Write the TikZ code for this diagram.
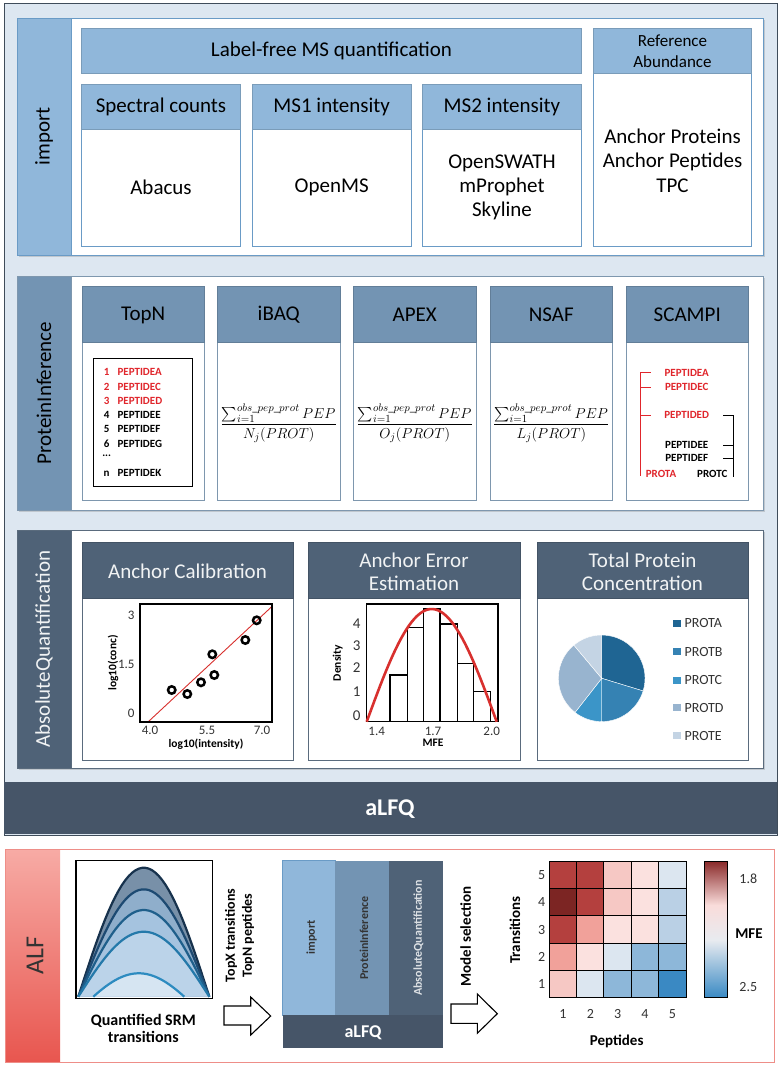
\documentclass[tikz,border=0pt]{standalone}
\usepackage{fontspec}
\setmainfont{Carlito}
\usepackage{amsmath}
\usetikzlibrary{calc,shadows}
\definecolor{bgpanel}{HTML}{DDE7F1}
\definecolor{rimgray}{HTML}{3F4C5A}
\definecolor{impfill}{HTML}{90B7DA}
\definecolor{impedge}{HTML}{6A9BC6}
\definecolor{pifill}{HTML}{7394B3}
\definecolor{piedge}{HTML}{7E97AE}
\definecolor{aqfill}{HTML}{4F6277}
\definecolor{aqedge}{HTML}{5A6B7D}
\definecolor{bandfill}{HTML}{465568}
\definecolor{pepred}{HTML}{E0262C}
\definecolor{fitred}{HTML}{D8302E}
\definecolor{alfred}{HTML}{E8564F}
\definecolor{alfpink}{HTML}{F7ABA5}
\definecolor{alfedge}{HTML}{EE8E88}
\definecolor{ticktxt}{HTML}{333333}
\definecolor{protA}{HTML}{1F6593}
\definecolor{protB}{HTML}{3582B3}
\definecolor{protC}{HTML}{3B95C8}
\definecolor{protD}{HTML}{98B4CF}
\definecolor{protE}{HTML}{C4D4E4}
\definecolor{srmfA}{HTML}{7890A8}
\definecolor{srmfB}{HTML}{8FAECB}
\definecolor{srmfC}{HTML}{A5C3DF}
\definecolor{srmfD}{HTML}{BBD3E9}
\definecolor{srmfE}{HTML}{D6E5F2}
\definecolor{srmeA}{HTML}{17324D}
\definecolor{srmeB}{HTML}{1D4A72}
\definecolor{srmeC}{HTML}{1F5F8B}
\definecolor{srmeD}{HTML}{2479AA}
\definecolor{srmeE}{HTML}{2D8BC0}
\definecolor{hmdark}{HTML}{7C2523}
\definecolor{hmred}{HTML}{B4403E}
\definecolor{hmsalmon}{HTML}{F1A19A}
\definecolor{hmpink}{HTML}{F6C8C4}
\definecolor{hmblush}{HTML}{FBE1DF}
\definecolor{hmpale}{HTML}{DCE6F0}
\definecolor{hmblue}{HTML}{8DB7D9}
\definecolor{hmlight}{HTML}{BAD0E5}
\definecolor{hmdeep}{HTML}{3A89C3}
\definecolor{cbtop}{HTML}{8B2C2C}
\definecolor{cbpink}{HTML}{F9DCDA}
\definecolor{cbwhite}{HTML}{E8EBF0}
\definecolor{cbblue}{HTML}{3A8AC4}
\newcommand{\fsz}[2]{\fontsize{#1}{#2}\selectfont}

\begin{document}
\begin{tikzpicture}[x=1pt,y=-1pt,
  panel/.style={draw=#1,line width=0.8pt,fill=white,drop shadow={shadow xshift=1.5pt,shadow yshift=-2pt,opacity=0.3}},
  hdr/.style={draw=#1!85!black,line width=0.6pt,fill=#1},
  body/.style={draw=#1,line width=0.7pt,fill=white},
  tick/.style={font=\fsz{13}{15},text=ticktxt},
  axlab/.style={font=\bfseries\fsz{11.5}{13}},
  peplab/.style={font=\bfseries\fsz{11}{13}},
  boldlab/.style={font=\bfseries\fsz{15}{17}}]
  \useasboundingbox (0,0) rectangle (780,1067);
  % aLFQ frame
  \draw[rimgray,fill=bgpanel] (4,3) rectangle (777,835);
  \fill[bandfill] (4,782) rectangle (777,834);
  \node[font=\bfseries\fsz{24}{28},text=white] (alfq) at (390,809) {aLFQ};
  % import
  \draw[panel=impedge] (17,18) rectangle (763,255);
  \draw[impedge,fill=impfill] (17,18) rectangle (71,255);
  \node[rotate=90,font=\fsz{21}{24}] (impT) at (44,136.5) {import};
  \draw[hdr=impfill] (81.5,28) rectangle (581.5,73);
  \node[font=\fsz{21}{24}] (lfq) at (331.5,51) {Label-free MS quantification};
  \foreach \xa/\xb/\nm/\hd/\bd in {81.5/240.5/sc/Spectral counts/Abacus,252.5/411/msa/MS1 intensity/OpenMS,422.5/581.5/msb/MS2 intensity/{OpenSWATH\\mProphet\\Skyline}}{
    \draw[body=impedge] (\xa,84) rectangle (\xb,246);
    \draw[hdr=impfill] (\xa,84) rectangle (\xb,129);
    \node[font=\fsz{21}{24}] (\nm-h) at ({(\xa+\xb)/2},107) {\hd};
    \node[font=\fsz{21}{24},align=center] (\nm-b) at ({(\xa+\xb)/2},187) {\bd};
  }
  \draw[body=impedge] (593.5,28) rectangle (751.5,246);
  \draw[hdr=impfill] (593.5,28) rectangle (751.5,73);
  \node[font=\fsz{17}{20.5},align=center] (ref-h) at (672.5,51) {Reference\\Abundance};
  \node[font=\fsz{21}{24.5},align=center] (ref-b) at (672.5,160.5) {Anchor Proteins\\Anchor Peptides\\TPC};
  % ProteinInference
  \draw[panel=piedge] (17,276) rectangle (763,510);
  \draw[piedge,fill=pifill] (17,276) rectangle (71,510);
  \node[rotate=90,font=\fsz{21}{24}] (piT) at (44,393) {ProteinInference};
  \foreach \xa/\nm in {82/TopN,217.5/iBAQ,353.5/APEX,490/NSAF,626/SCAMPI}{
    \draw[body=piedge] (\xa,286) rectangle ++(122.5,214);
    \draw[hdr=pifill] (\xa,286) rectangle ++(122.5,56.5);
    \node[font=\fsz{21}{24}] (\nm) at (\xa+61.25,315) {\nm};
  }
  \draw[line width=0.9] (93.3,358.7) rectangle (192.3,486);
  \foreach \y/\n/\p/\c in {372.3/1/PEPTIDEA/pepred,386.7/2/PEPTIDEC/pepred,400.7/3/PEPTIDED/pepred,415/4/PEPTIDEE/black,429.3/5/PEPTIDEF/black,444/6/PEPTIDEG/black,473.3/n/PEPTIDEK/black}{
    \node[peplab,text=\c] (num\n) at (106.7,\y) {\n};
    \node[peplab,text=\c,anchor=west] (top\n) at (114,\y) {\p};
  }
  \node[peplab] (dots) at (106.7,456) {...};
  \foreach \xc/\dn in {278.75/N,414.75/O,551.25/L}
    \node[font=\fsz{15.5}{18}] (f\dn) at (\xc,423) {$\dfrac{\textstyle\sum_{i=1}^{obs\_pep\_prot}PEP}{\dn_j(PROT)}$};
  \draw[pepred,line width=1] (650.7,372.7) -- (640.7,372.7) -- (640.7,476) (640.7,387.3) -- (650.7,387.3) (640.7,415) -- (650.7,415);
  \draw[line width=1] (723.3,415) -- (733.3,415) -- (733.3,476.7) (723.3,445) -- (733.3,445) (723.3,458.3) -- (733.3,458.3);
  \foreach \y/\p/\c in {372.7/PEPTIDEA/pepred,387.3/PEPTIDEC/pepred,415/PEPTIDED/pepred,445/PEPTIDEE/black,458.3/PEPTIDEF/black}
    \node[peplab,text=\c] (sc\p) at (686.7,\y) {\p};
  \node[peplab,text=pepred] (protA) at (661,474.3) {PROTA};
  \node[peplab] (protC) at (712.3,474.3) {PROTC};
  % AbsoluteQuantification
  \draw[panel=aqedge] (17,530) rectangle (763,768);
  \draw[aqedge,fill=aqfill] (17,530) rectangle (71,768);
  \node[rotate=90,font=\fsz{21}{24},text=white!92!aqfill] (aqT) at (44,649) {AbsoluteQuantification};
  \foreach \xa/\xb/\nm/\hd in {82/293/cal/Anchor Calibration,308/520/err/{Anchor Error\\Estimation},537/748/tpc/{Total Protein\\Concentration}}{
    \draw[body=aqedge] (\xa,542) rectangle (\xb,760);
    \draw[hdr=aqfill] (\xa,542) rectangle (\xb,598);
    \node[font=\fsz{21}{23},align=center,text=white!92!aqfill] (\nm) at ({(\xa+\xb)/2},571.5) {\hd};
  }
  % calibration plot
  \draw[fitred,line width=0.9] (148.3,721.7) -- (271.7,606.7);
  \foreach \px/\py in {171.7/690,187.3/694,201/682.3,212.3/654.3,214.3/675,245.3/640,256.7/620.3}
    \draw[line width=2.5] (\px,\py) circle[radius=3.7];
  \draw[line width=1.4] (140,604) rectangle (272,722);
  \foreach \ty/\tl [count=\k] in {615/3,664/1.5,713/0}
    \node[tick,anchor=east] (cy\k) at (138,\ty) {\tl};
  \foreach \tx/\tl [count=\k] in {150/4.0,207/5.5,262/7.0}
    \node[tick] (cx\k) at (\tx,730) {\tl};
  \node[axlab] (calx) at (206,744) {log10(intensity)};
  \node[axlab,rotate=90] (caly) at (113,663) {log10(conc)};
  % error histogram
  \foreach \xa/\xb/\tp in {390/407.3/675,407.3/423.3/627.7,423.3/440/609,440/457.3/624,457.3/473.3/663.3,473.3/490.7/691.7}
    \draw[line width=1.1] (\xa,721.7) rectangle (\xb,\tp);
  \draw[line width=1.4] (366.7,604) rectangle (498,721.7);
  \draw[fitred,line width=2.6] plot[domain=0:180,samples=50] ({366.7+0.7222*\x},{721.7-112.7*sin(\x)});
  \foreach \ty/\tl in {624/4,645.7/3,668/2,692/1,715.7/0}
    \node[font=\fsz{15}{17},text=ticktxt,anchor=east] (ey\tl) at (364,\ty) {\tl};
  \foreach \tx/\tl [count=\k] in {376.7/1.4,433/1.7,491.7/2.0}
    \node[tick] (ex\k) at (\tx,731.7) {\tl};
  \node[axlab] (errx) at (433,743) {MFE};
  \node[axlab,rotate=90] (erry) at (337.7,663) {Density};
  % pie
  \begin{scope}[shift={(601.7,678.3)},y=1pt]
    \foreach \sa/\ea/\pc in {90/-17/protA,-17/-90/protB,-90/-128/protC,-128/-230/protD,-230/-270/protE}
      \fill[\pc,draw=white,line width=0.4] (0,0) -- (\sa:43.3) arc[start angle=\sa,end angle=\ea,radius=43.3] -- cycle;
  \end{scope}
  \foreach \ly/\pc/\pn in {623.3/protA/PROTA,651.7/protB/PROTB,680/protC/PROTC,707.7/protD/PROTD,735.7/protE/PROTE}{
    \fill[\pc] (673.3,\ly-3.5) rectangle ++(7.5,7);
    \node[anchor=west,font=\fsz{14}{16},text=ticktxt] (lg\pn) at (681,\ly) {\pn};
  }
  % ALF
  \draw[alfedge,fill=white,line width=1] (5,849) rectangle (774,1062);
  \shade[top color=alfpink,bottom color=alfred] (5,849) rectangle (60,1062);
  \draw[alfedge,line width=1] (5,849) rectangle (774,1062);
  \node[rotate=90,font=\fsz{26}{30},text=ticktxt] (alf) at (35,956) {ALF};
  \foreach \h/\fc/\dc in {129/srmfA/srmeA,107.4/srmfB/srmeB,86.7/srmfC/srmeC,65/srmfD/srmeD}{
    \fill[\fc] plot[domain=0:180,samples=40] ({78.3+0.7278*\x},{996.7-\h*sin(\x)}) -- cycle;
    \draw[\dc,line width=2.2] plot[domain=0:180,samples=40] ({78.3+0.7278*\x},{996.7-\h*sin(\x)});
  }
  \fill[srmfE] plot[domain=20:160,samples=30] ({93.3+0.65*(\x-20)},{996.7-35.6*(sin(\x)-0.342)}) -- cycle;
  \draw[srmeE,line width=2.2] plot[domain=20:160,samples=30] ({93.3+0.65*(\x-20)},{996.7-35.6*(sin(\x)-0.342)});
  \draw[line width=1.2] (76,860.7) rectangle (212.7,998.3);
  \node[font=\bfseries\fsz{16}{17},align=center] (srm) at (143.3,1028.5) {Quantified SRM\\transitions};
  \draw[line width=1.1,fill=white] (224,1006) -- (250.7,1006) -- (250.7,997) -- (270.7,1016) -- (250.7,1035) -- (250.7,1025) -- (224,1025) -- cycle;
  \node[font=\bfseries\fsz{14}{17},rotate=90,align=center] (topx) at (239.5,935.5) {TopX transitions\\TopN peptides};
  % mini aLFQ
  \fill[impfill] (282.7,860.7) rectangle (335,1015);
  \draw[impedge,line width=0.6] (282.7,860.7) rectangle (335,1015);
  \fill[pifill] (335,860.7) rectangle (389.3,1015);
  \fill[aqfill] (389.3,860.7) rectangle (443.3,1015);
  \fill[bandfill] (282.7,1015) rectangle (443.3,1048.3);
  \node[rotate=90,font=\bfseries\fsz{12}{14},text=ticktxt] (mimp) at (311.7,937.5) {import};
  \node[rotate=90,font=\bfseries\fsz{12}{14},text=ticktxt] (mpi) at (364,938) {ProteinInference};
  \node[rotate=90,font=\bfseries\fsz{12}{14},text=white!80!aqfill] (maq) at (418.3,938) {AbsoluteQuantification};
  \node[font=\bfseries\fsz{18}{20},text=white] (malfq) at (363,1033) {aLFQ};
  \draw[line width=1.1,fill=white] (451,1004) -- (477.3,1004) -- (477.3,994) -- (497.3,1013.7) -- (477.3,1033.3) -- (477.3,1023.3) -- (451,1023.3) -- cycle;
  \node[boldlab,rotate=90] (msel) at (465.7,936.7) {Model selection};
  % heatmap
  \foreach \c/\r/\hc in {1/5/hmred,2/5/hmred,3/5/hmpink,4/5/hmblush,5/5/hmpale,
                         1/4/hmdark,2/4/hmred,3/4/hmpink,4/4/hmblush,5/4/hmlight,
                         1/3/hmred,2/3/hmsalmon,3/3/hmblush,4/3/hmblush,5/3/hmlight,
                         1/2/hmsalmon,2/2/hmblush,3/2/hmpale,4/2/hmblue,5/2/hmblue,
                         1/1/hmpink,2/1/hmpale,3/1/hmblue,4/1/hmblue,5/1/hmdeep}
    \draw[fill=\hc,line width=1] (549.3+27.34*\c-27.34,861.7+27.12*5-27.12*\r) rectangle ++(27.34,27.12);
  \foreach \k in {1,...,5}{
    \node[font=\fsz{14}{16},text=ticktxt] (hr\k) at (541.7,997.3-27.12*\k+13.56) {\k};
    \node[font=\fsz{14}{16},text=ticktxt] (hc\k) at (549.3+27.34*\k-13.67,1014) {\k};
  }
  \node[boldlab,rotate=90] (trans) at (515,930) {Transitions};
  \node[boldlab] (peps) at (616.7,1041.7) {Peptides};
  \shade[top color=cbtop,bottom color=cbpink] (704,861.7) rectangle (727.3,905);
  \shade[top color=cbpink,bottom color=cbwhite] (704,905) rectangle (727.3,940);
  \shade[top color=cbwhite,bottom color=cbblue] (704,940) rectangle (727.3,997.3);
  \draw[line width=1] (704,861.7) rectangle (727.3,997.3);
  \node[font=\fsz{14}{16},text=ticktxt] (cbhi) at (748.3,878.3) {1.8};
  \node[boldlab] (cbmfe) at (749,933.3) {MFE};
  \node[font=\fsz{14}{16},text=ticktxt] (cblo) at (748.3,986.7) {2.5};
\end{tikzpicture}
\end{document}
